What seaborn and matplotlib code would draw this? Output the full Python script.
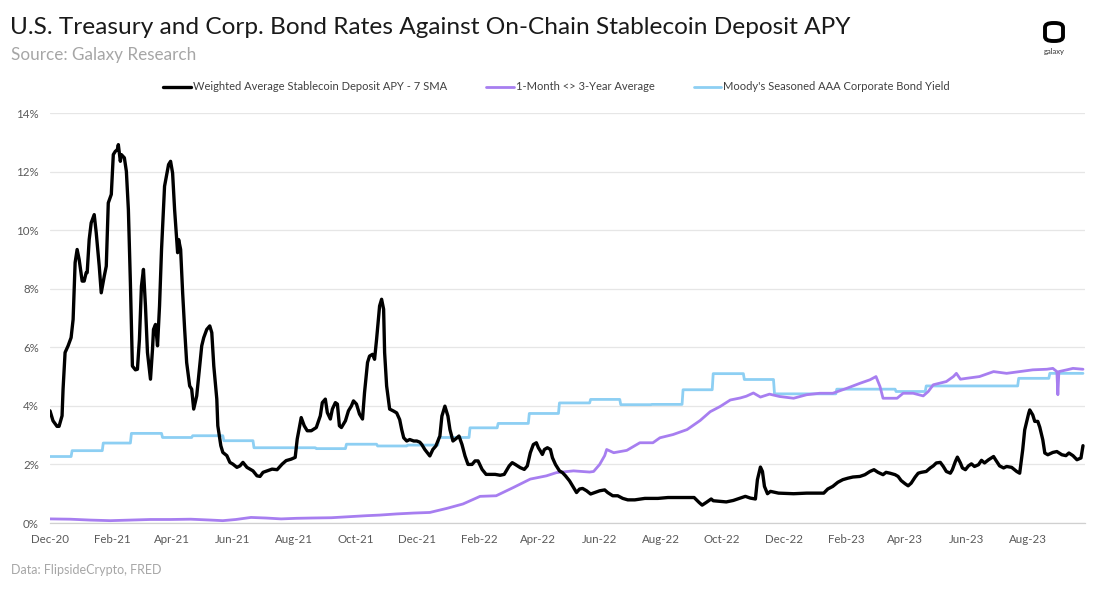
import matplotlib
matplotlib.use("Agg")
import matplotlib.pyplot as plt
import matplotlib.dates as mdates
from matplotlib.patches import FancyBboxPatch
import seaborn as sns
import pandas as pd

# ---------------- data ----------------
start_date = "2020-12-10"
end_days = 1030

black_days = [0, 3, 7, 9, 12, 13, 15, 18, 21, 23, 25, 27, 29, 32, 34, 36, 37, 39, 41, 44,
              46, 49, 51, 54, 56, 58, 61, 63, 65, 67, 68, 70, 71, 74, 76, 78, 80, 82, 85, 87,
              89, 91, 93, 95, 97, 100, 102, 103, 105, 107, 109, 111, 114, 118, 120, 122, 124, 127, 128, 130,
              132, 134, 136, 139, 141, 143, 146, 149, 151, 153, 156, 159, 161, 163, 166, 167, 170, 172, 176, 179,
              182, 186, 189, 192, 196, 199, 202, 206, 209, 212, 216, 221, 226, 231, 235, 240, 244, 246, 250, 253,
              256, 260, 265, 269, 271, 274, 276, 279, 281, 284, 286, 288, 290, 294, 297, 300, 302, 305, 308, 311,
              313, 316, 318, 321, 323, 325, 328, 330, 332, 333, 335, 338,
              342, 345, 348, 350, 352, 355, 358, 362, 365, 368, 370, 373, 378, 381, 384, 388, 390, 393, 396, 398,
              401, 404, 407, 410, 413, 416, 420, 423, 426, 430, 434, 443, 448, 452, 457, 460, 463, 468, 472, 475,
              478, 481, 484, 486, 488, 490, 492, 495, 498, 500, 503, 507, 510, 513, 517, 520, 524, 527, 530, 534,
              538, 542, 547, 552, 555, 560, 565, 570, 575, 582, 592, 605, 615, 628, 641, 646, 649, 653, 658,
              660, 667, 673, 680, 687, 692, 697, 702, 704, 707, 709, 711, 714, 717, 725, 740, 753, 770, 774, 779,
              784, 789, 794, 799, 806, 811, 816, 820, 824, 829, 832, 836, 841, 844, 847, 851, 854, 857, 861, 864,
              867, 872, 876, 879, 882, 886, 889, 892, 896, 898, 901, 903, 906, 908, 911, 914, 917, 920, 924, 927,
              930, 934, 939, 941, 945, 949, 952, 957, 962, 965, 968, 970, 974, 975, 978, 980, 983, 985, 988, 990,
              993, 998, 1002, 1007, 1011, 1014, 1018, 1022, 1026, 1028]
black_apy = [3.83, 3.49, 3.3, 3.3, 3.66, 4.57, 5.82, 6.05, 6.33, 6.95, 8.89, 9.34, 9.0, 8.26, 8.26, 8.55, 8.55, 9.68, 10.25, 10.53,
             9.91, 8.77, 7.86, 8.43, 8.77, 10.93, 11.22, 12.58, 12.69, 12.75, 12.92, 12.35, 12.58, 12.47, 12.01, 10.7, 8.2, 5.36, 5.23, 5.25,
             6.27, 8.09, 8.66, 7.41, 5.82, 4.91, 5.93, 6.61, 6.78, 6.05, 7.41, 9.34, 11.5, 12.24, 12.35, 11.95, 10.7, 9.23, 9.68, 9.34,
             7.86, 6.61, 5.48, 4.68, 4.57, 3.89, 4.34, 5.36, 6.05, 6.33, 6.61, 6.73, 6.5, 5.36, 4.23, 3.32, 2.64, 2.41, 2.3, 2.07,
             2.01, 1.9, 1.95, 2.07, 1.9, 1.84, 1.78, 1.61, 1.59, 1.73, 1.78, 1.84, 1.82, 2.01, 2.13, 2.18, 2.24, 2.86, 3.6, 3.32,
             3.15, 3.15, 3.26, 3.66, 4.11, 4.23, 3.77, 3.55, 3.89, 4.11, 4.06, 3.32, 3.26, 3.49, 3.83, 4.0, 4.17, 4.06, 3.72, 3.55,
             4.45, 5.48, 5.7, 5.76, 5.59, 6.27, 7.41, 7.64, 7.3, 5.82, 4.68, 3.89,
             3.82, 3.76, 3.53, 3.19, 2.91, 2.8, 2.85, 2.8, 2.8, 2.76, 2.68, 2.51, 2.29, 2.51, 2.63, 2.97, 3.65, 3.99, 3.65, 3.19,
             2.8, 2.88, 2.97, 2.68, 2.29, 2.0, 2.0, 2.12, 2.12, 1.83, 1.66, 1.66, 1.63, 1.66, 1.95, 2.06, 2.0, 1.89, 1.83, 1.95,
             2.4, 2.68, 2.74, 2.57, 2.46, 2.34, 2.51, 2.57, 2.51, 2.23, 2.0, 1.78, 1.72, 1.61, 1.44, 1.27, 1.04, 1.16, 1.18, 1.1,
             0.99, 1.04, 1.1, 1.13, 1.04, 0.93, 0.93, 0.84, 0.79, 0.79, 0.84, 0.84, 0.87, 0.87, 0.87, 0.7, 0.61, 0.7, 0.82,
             0.76, 0.74, 0.72, 0.77, 0.85, 0.91, 0.85, 0.82, 1.48, 1.91, 1.76, 1.25, 1.0, 1.08, 1.02, 1.0, 1.02, 1.02, 1.16, 1.25,
             1.39, 1.48, 1.53, 1.57, 1.59, 1.65, 1.76, 1.82, 1.73, 1.65, 1.73, 1.7, 1.65, 1.59, 1.45, 1.34, 1.27, 1.36, 1.57, 1.7,
             1.73, 1.76, 1.88, 1.95, 2.05, 2.07, 1.93, 1.76, 1.7, 1.82, 2.1, 2.25, 2.05, 1.88, 1.82, 1.95, 2.02, 1.93, 1.99, 2.14,
             2.05, 2.16, 2.27, 2.16, 1.95, 1.88, 1.93, 1.9, 1.76, 1.7, 2.5, 3.18, 3.75, 3.86, 3.69, 3.47, 3.47, 3.27, 2.84, 2.39,
             2.33, 2.41, 2.44, 2.33, 2.3, 2.39, 2.3, 2.16, 2.22, 2.64]

purple_days = [0, 20, 40, 60, 80, 100, 120, 140, 160, 172, 185, 200, 215, 230, 245, 260, 280, 300, 315, 328,
               345, 362, 378, 395, 411, 428, 444, 461, 478, 494, 504, 521, 537, 541, 547, 552, 554, 561, 574, 587,
               600, 607, 620, 634, 647, 657, 667, 677, 687, 693, 700, 707, 716, 726, 740, 753, 766, 779, 793, 806,
               816, 822, 826, 829, 836, 843, 849, 859, 869, 874, 879, 892, 899, 902, 906, 912, 925, 939, 952, 965,
               978, 992, 998, 1002, 1003, 1004, 1012, 1018, 1028]
purple_avg = [0.14, 0.13, 0.1, 0.08, 0.1, 0.12, 0.12, 0.13, 0.1, 0.08, 0.12, 0.19, 0.17, 0.14, 0.16, 0.17, 0.18, 0.22, 0.25, 0.27,
              0.31, 0.34, 0.36, 0.5, 0.65, 0.91, 0.93, 1.21, 1.5, 1.61, 1.72, 1.78, 1.74, 1.76, 2.0, 2.3, 2.51, 2.4, 2.48, 2.74,
              2.74, 2.91, 3.02, 3.19, 3.5, 3.8, 3.98, 4.2, 4.27, 4.33, 4.44, 4.3, 4.4, 4.32, 4.26, 4.38, 4.43, 4.43, 4.6, 4.77,
              4.89, 5.0, 4.66, 4.26, 4.26, 4.26, 4.43, 4.43, 4.34, 4.49, 4.72, 4.83, 5.0, 5.11, 4.91, 4.94, 5.0, 5.17, 5.11, 5.17,
              5.23, 5.25, 5.28, 5.17, 4.38, 5.17, 5.23, 5.28, 5.25]

blue_months = ["2020-12", "2021-01", "2021-02", "2021-03", "2021-04", "2021-05", "2021-06", "2021-07", "2021-08",
               "2021-09", "2021-10", "2021-11", "2021-12", "2022-01", "2022-02", "2022-03", "2022-04", "2022-05",
               "2022-06", "2022-07", "2022-08", "2022-09", "2022-10", "2022-11", "2022-12", "2023-01", "2023-02",
               "2023-03", "2023-04", "2023-05", "2023-06", "2023-07", "2023-08", "2023-09"]
blue_yield = [2.27, 2.47, 2.73, 3.06, 2.92, 2.98, 2.81, 2.57, 2.57, 2.54, 2.69, 2.63, 2.66, 2.92, 3.25, 3.40, 3.74,
              4.10, 4.22, 4.04, 4.05, 4.55, 5.10, 4.90, 4.41, 4.41, 4.57, 4.57, 4.49, 4.68, 4.68, 4.68, 4.94, 5.11]

y_ticks = [0, 2, 4, 6, 8, 10, 12, 14]
labels = ["Weighted Average Stablecoin Deposit APY - 7 SMA",
          "1-Month <> 3-Year Average",
          "Moody's Seasoned AAA Corporate Bond Yield"]
title = "U.S. Treasury and Corp. Bond Rates Against On-Chain Stablecoin Deposit APY"
subtitle = "Source: Galaxy Research"
footer = "Data: FlipsideCrypto, FRED"

# ---------------- frames ----------------
t0 = pd.Timestamp(start_date)
t_end = t0 + pd.Timedelta(days=end_days)
black_df = pd.DataFrame({"date": t0 + pd.to_timedelta(black_days, unit="D"), "value": black_apy})
purple_df = pd.DataFrame({"date": t0 + pd.to_timedelta(purple_days, unit="D"), "value": purple_avg})
monthly = pd.Series(blue_yield, index=pd.to_datetime(blue_months))
daily_idx = pd.date_range(pd.Timestamp(blue_months[0]), t0 + pd.Timedelta(days=black_days[-1]), freq="D")
blue_series = monthly.reindex(daily_idx).ffill()
blue_series = blue_series[blue_series.index >= t0]
blue_df = pd.DataFrame({"date": blue_series.index, "value": blue_series.values})

# ---------------- style ----------------
sns.set_style("white")
plt.rcParams["font.family"] = ["Lato", "DejaVu Sans"]

c_black = "#000000"
c_purple = "#A77EF0"
c_blue = "#8DCFF3"

fig = plt.figure(figsize=(11, 5.9), dpi=100)
ax = fig.add_axes([50 / 1100, 1 - 523 / 590, 1035 / 1100, 410 / 590])

sns.lineplot(data=blue_df, x="date", y="value", ax=ax, color=c_blue, lw=2.0,
             label=labels[2], zorder=2)
sns.lineplot(data=purple_df, x="date", y="value", ax=ax, color=c_purple, lw=2.0,
             label=labels[1], zorder=3)
sns.lineplot(data=black_df, x="date", y="value", ax=ax, color=c_black, lw=2.4,
             label=labels[0], zorder=4)

ax.set_xlim(t0, t_end)
ax.set_ylim(0, 14)
ax.set_yticks(y_ticks)
ax.set_yticklabels([f"{v}%" for v in y_ticks])
ax.xaxis.set_major_locator(mdates.MonthLocator(bymonth=(2, 4, 6, 8, 10, 12), bymonthday=10))
ax.xaxis.set_major_formatter(mdates.DateFormatter("%b-%y"))
ax.set_xlabel("")
ax.set_ylabel("")
ax.yaxis.grid(True, color="#E6E6E6", lw=0.9)
ax.set_axisbelow(True)
for s in ["top", "right", "left"]:
    ax.spines[s].set_visible(False)
ax.spines["bottom"].set_color("#D0D0D0")
ax.spines["bottom"].set_linewidth(0.9)
ax.tick_params(axis="y", length=0, pad=8, labelsize=8.3, labelcolor="#595959")
ax.tick_params(axis="x", length=3, color="#D0D0D0", pad=5, labelsize=8.3, labelcolor="#595959")

# legend
handles, labs = ax.get_legend_handles_labels()
order = [labs.index(l) for l in labels]
ax.get_legend().remove()
leg = fig.legend([handles[i] for i in order], [labs[i] for i in order], ncol=3,
                 loc="center", bbox_to_anchor=(0.506, 1 - 87 / 590), frameon=False,
                 fontsize=8.0, handlelength=2.5, handletextpad=0.18, columnspacing=3.5,
                 labelcolor="#404040")

# titles
fig.text(10 / 1100, 1 - 34 / 590, title, fontsize=17.6, color="#1A1A1A", va="baseline", ha="left")
fig.text(11 / 1100, 1 - 60 / 590, subtitle, fontsize=12.3, color="#A6A6A6", va="baseline", ha="left")
fig.text(11 / 1100, 1 - 574 / 590, footer, fontsize=9, color="#A6A6A6", va="baseline", ha="left")

# logo
logo = FancyBboxPatch((1045 / 1100, 1 - 41 / 590), 18 / 1100, 18 / 590,
                      boxstyle="round,pad=0,rounding_size=0.0075", transform=fig.transFigure,
                      fill=False, edgecolor="black", lw=2.8)
fig.patches.append(logo)
fig.text(1054 / 1100, 1 - 54 / 590, "galaxy", fontsize=5.5, color="#333333", ha="center", va="baseline")

fig.savefig("out.png", dpi=100)
